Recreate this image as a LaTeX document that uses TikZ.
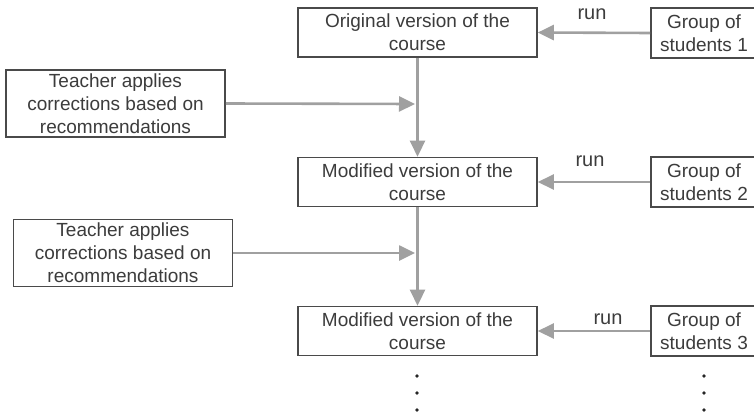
\documentclass[tikz,border=0pt]{standalone}
\usepackage{fontspec}
\setmainfont{Liberation Sans}
\usetikzlibrary{arrows.meta}
\definecolor{boxc}{HTML}{4A4A4A}
\definecolor{txtc}{HTML}{3C3C3C}
\definecolor{arrc}{HTML}{A0A0A0}
\tikzset{
  box/.style={draw=boxc, line width=1.6pt, fill=white, text=txtc, align=center, inner sep=0pt, font=\fontsize{19}{23}\selectfont},
  course/.style={box, minimum width=239pt, minimum height=49pt},
  group/.style={box, minimum width=106pt, minimum height=50pt},
  teacher/.style={box, minimum width=219pt, minimum height=67pt},
  conn/.style={draw=arrc, line width=2.6pt, -{Triangle[length=16pt,width=15pt]}},
  lbl/.style={text=txtc, font=\fontsize{20}{22}\selectfont, inner sep=0pt},
  dot/.style={circle, fill=black!85, inner sep=0pt, minimum size=3.6pt}
}
\begin{document}
\begin{tikzpicture}[x=1pt,y=-1pt]
\useasboundingbox (0,0) rectangle (754,417);
\node[course] (c1) at (417.5,32.5) {Original version of the\\course};
\node[group] (g1) at (704,33) {Group of\\students 1};
\node[teacher] (t1) at (115.5,103.5) {Teacher applies\\corrections based on\\recommendations};
\node[course] (c2) at (417.5,182) {Modified version of the\\course};
\node[group] (g2) at (704,182) {Group of\\students 2};
\node[teacher] (t2) at (123,253) {Teacher applies\\corrections based on\\recommendations};
\node[course] (c3) at (417.5,331) {Modified version of the\\course};
\node[group] (g3) at (704,331) {Group of\\students 3};
\coordinate (m1) at (415,104);
\coordinate (m2) at (415,253);
\draw[conn] (g1.west) -- (c1.east);
\draw[conn] (g2.west) -- (c2.east);
\draw[conn] (g3.west) -- (c3.east);
\node[lbl] (r1) at (592,14) {run};
\node[lbl] (r2) at (590,161) {run};
\node[lbl] (r3) at (608,319) {run};
\draw[conn] (c1.south) -- (c2.north);
\draw[conn] (c2.south) -- (c3.north);
\draw[conn] (t1.east) -- (m1);
\draw[conn] (t2.east) -- (m2);
\foreach \y [count=\i] in {376,393,410} {
  \node[dot] (dl\i) at (417,\y) {};
  \node[dot] (dr\i) at (704,\y) {};
}
\end{tikzpicture}
\end{document}
